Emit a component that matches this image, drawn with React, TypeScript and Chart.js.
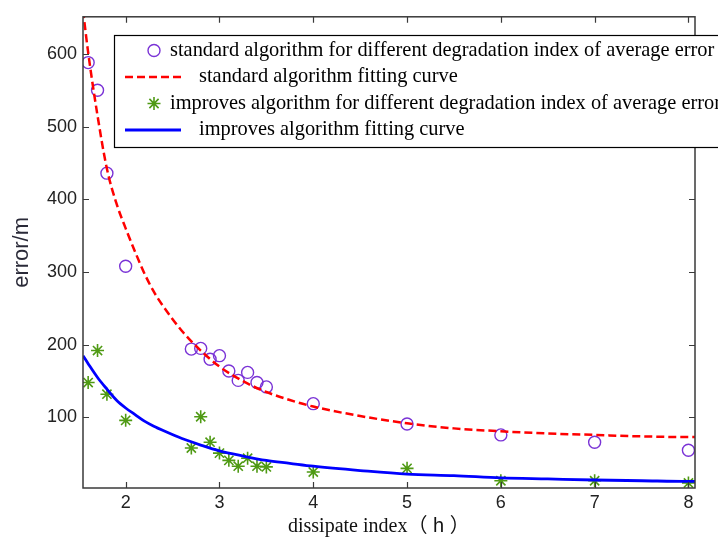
import React, { useEffect, useRef } from "react";
import { Chart, registerables } from "chart.js";

Chart.register(...registerables);

// Measured samples (dissipate index h)
const sampleX = [1.6, 1.7, 1.8, 2.0, 2.7, 2.8, 2.9, 3.0, 3.1, 3.2, 3.3, 3.4, 3.5, 4, 5, 6, 7, 8];
const standardError = [588, 550, 436, 308, 194, 195, 180, 185, 164, 151, 162, 148, 142, 119, 91, 76, 66, 55];
const improvedError = [148, 192, 132, 96, 58, 101, 66, 51, 41, 33, 44, 33, 32, 25, 30, 13, 13, 10];

// Fitting curves
const fitX = [1.545, 1.6, 1.7, 1.8, 1.9, 2.0, 2.1, 2.2, 2.3, 2.4, 2.6, 2.8, 3.0, 3.25, 3.5, 3.75, 4, 4.5, 5, 5.5, 6, 6.5, 7, 7.5, 8, 8.07];
const standardFit = [660, 602, 515, 442, 395, 360, 328, 298, 273, 253, 219, 192, 170, 150, 135, 124, 115, 102, 92, 85, 81, 78, 76, 74, 73, 73];
const improvedFit = [185, 174, 155, 139, 124, 113, 104, 95, 88, 82, 71, 62, 54, 47, 41, 37, 33, 27, 22, 20, 17, 15.5, 14, 13, 12, 12];

const xTicks = [2, 3, 4, 5, 6, 7, 8];
const yTicks = [100, 200, 300, 400, 500, 600];

const legendLabels = [
  "standard algorithm for different degradation index of average error",
  "standard algorithm fitting curve",
  "improves algorithm for different degradation index of average error",
  "improves algorithm fitting curve",
];
const xTitle = "dissipate index";
const xTitleUnit = "（ h ）";
const yTitle = "error/m";

const PURPLE = "#7a33d6";
const GREEN = "#4f9a14";
const RED = "#ff0000";
const BLUE = "#0000ff";

function drawStar(ctx: CanvasRenderingContext2D, x: number, y: number, r: number) {
  const d = r * Math.SQRT1_2;
  ctx.beginPath();
  ctx.moveTo(x - r, y);
  ctx.lineTo(x + r, y);
  ctx.moveTo(x, y - r);
  ctx.lineTo(x, y + r);
  ctx.moveTo(x - d, y - d);
  ctx.lineTo(x + d, y + d);
  ctx.moveTo(x - d, y + d);
  ctx.lineTo(x + d, y - d);
  ctx.stroke();
}

const framePlugin = {
  id: "matlabFrame",
  afterDatasetsDraw(chart: any) {
    const { ctx, chartArea: a, scales } = chart;
    ctx.save();
    // axes box
    ctx.strokeStyle = "#3a3a3a";
    ctx.lineWidth = 1.5;
    ctx.strokeRect(a.left, a.top, a.right - a.left, a.bottom - a.top);
    // inner ticks
    ctx.lineWidth = 1.2;
    ctx.beginPath();
    for (const v of xTicks) {
      const px = Math.round(scales.x.getPixelForValue(v)) + 0.5;
      ctx.moveTo(px, a.bottom);
      ctx.lineTo(px, a.bottom - 6);
      ctx.moveTo(px, a.top);
      ctx.lineTo(px, a.top + 6);
    }
    for (const v of yTicks) {
      const py = Math.round(scales.y.getPixelForValue(v)) + 0.5;
      ctx.moveTo(a.left, py);
      ctx.lineTo(a.left + 6, py);
      ctx.moveTo(a.right, py);
      ctx.lineTo(a.right - 6, py);
    }
    ctx.stroke();

    // legend box
    const lx = 114.5;
    const ly = 35.5;
    ctx.fillStyle = "#ffffff";
    ctx.fillRect(lx, ly, 700, 112);
    ctx.strokeStyle = "#000000";
    ctx.lineWidth = 1.2;
    ctx.strokeRect(lx, ly, 700, 112);

    const rows = [50.5, 77, 103.5, 130];
    // markers
    ctx.strokeStyle = PURPLE;
    ctx.lineWidth = 1.4;
    ctx.beginPath();
    ctx.arc(154, rows[0], 6, 0, Math.PI * 2);
    ctx.stroke();

    ctx.strokeStyle = RED;
    ctx.lineWidth = 2.5;
    ctx.setLineDash([8, 4]);
    ctx.beginPath();
    ctx.moveTo(125, rows[1]);
    ctx.lineTo(181, rows[1]);
    ctx.stroke();
    ctx.setLineDash([]);

    ctx.strokeStyle = GREEN;
    ctx.lineWidth = 1.6;
    drawStar(ctx, 154, rows[2], 6.5);

    ctx.strokeStyle = BLUE;
    ctx.lineWidth = 2.8;
    ctx.beginPath();
    ctx.moveTo(125, rows[3]);
    ctx.lineTo(181, rows[3]);
    ctx.stroke();

    // legend text
    ctx.fillStyle = "#000000";
    ctx.font = "20.4px 'Liberation Serif', 'Times New Roman', serif";
    ctx.textBaseline = "middle";
    ctx.textAlign = "left";
    ctx.fillText(legendLabels[0], 170, rows[0]);
    ctx.fillText(legendLabels[1], 199, rows[1]);
    ctx.fillText(legendLabels[2], 170, rows[2]);
    ctx.fillText(legendLabels[3], 199, rows[3]);

    // x-axis title
    ctx.fillStyle = "#111111";
    ctx.textBaseline = "alphabetic";
    ctx.font = "20px 'Liberation Serif', 'Times New Roman', serif";
    ctx.fillText(xTitle, 288, 532);
    const w = ctx.measureText(xTitle).width;
    ctx.font = "20px 'Liberation Sans', 'Noto Sans CJK SC', sans-serif";
    ctx.fillText(xTitleUnit, 288 + w, 532);

    ctx.restore();
  },
};

export default function App() {
  const ref = useRef<HTMLCanvasElement | null>(null);

  useEffect(() => {
    if (!ref.current) return;
    const chart = new Chart(ref.current, {
      type: "scatter",
      data: {
        datasets: [
          {
            label: legendLabels[0],
            data: sampleX.map((x, i) => ({ x, y: standardError[i] })),
            showLine: false,
            pointStyle: "circle",
            pointRadius: 6,
            pointBorderWidth: 1.4,
            borderColor: PURPLE,
            backgroundColor: "rgba(0,0,0,0)",
            order: 2,
          },
          {
            label: legendLabels[1],
            data: fitX.map((x, i) => ({ x, y: standardFit[i] })),
            showLine: true,
            pointRadius: 0,
            borderColor: RED,
            borderWidth: 2.5,
            borderDash: [8, 4],
            cubicInterpolationMode: "monotone",
            order: 1,
          },
          {
            label: legendLabels[2],
            data: sampleX.map((x, i) => ({ x, y: improvedError[i] })),
            showLine: false,
            pointStyle: "star",
            pointRadius: 6.5,
            pointBorderWidth: 1.6,
            borderColor: GREEN,
            backgroundColor: GREEN,
            order: 4,
          },
          {
            label: legendLabels[3],
            data: fitX.map((x, i) => ({ x, y: improvedFit[i] })),
            showLine: true,
            pointRadius: 0,
            borderColor: BLUE,
            borderWidth: 2.8,
            cubicInterpolationMode: "monotone",
            order: 3,
          },
        ],
      },
      options: {
        responsive: false,
        animation: false,
        layout: { padding: { left: 0, top: 10, right: 23, bottom: 0 } },
        plugins: {
          legend: { display: false },
          tooltip: { enabled: false },
        },
        scales: {
          x: {
            type: "linear",
            min: 1.545,
            max: 8.07,
            grid: { display: false, drawTicks: false },
            border: { display: false },
            afterBuildTicks: (scale: any) => {
              scale.ticks = xTicks.map((v) => ({ value: v }));
            },
            afterFit: (scale: any) => {
              scale.height = 52;
            },
            ticks: {
              padding: 4,
              color: "#222222",
              font: { family: "'Liberation Sans', Arial, sans-serif", size: 18 },
              callback: (v: any) => String(v),
            },
          },
          y: {
            type: "linear",
            min: 3,
            max: 651,
            grid: { display: false, drawTicks: false },
            border: { display: false },
            afterBuildTicks: (scale: any) => {
              scale.ticks = yTicks.map((v) => ({ value: v }));
            },
            afterFit: (scale: any) => {
              scale.width = 83;
            },
            title: {
              display: true,
              text: yTitle,
              color: "#2a2a38",
              font: { family: "'Liberation Sans', Arial, sans-serif", size: 22 },
              padding: { top: 9, bottom: 0 },
            },
            ticks: {
              padding: 6,
              color: "#222222",
              font: { family: "'Liberation Sans', Arial, sans-serif", size: 18 },
              callback: (v: any) => String(v),
            },
          },
        },
      },
      plugins: [framePlugin],
    });
    return () => chart.destroy();
  }, []);

  return (
    <div style={{ position: "absolute", left: 0, top: 0, width: 718, height: 540, background: "#ffffff" }}>
      <canvas ref={ref} width={718} height={540} style={{ display: "block" }} />
    </div>
  );
}
